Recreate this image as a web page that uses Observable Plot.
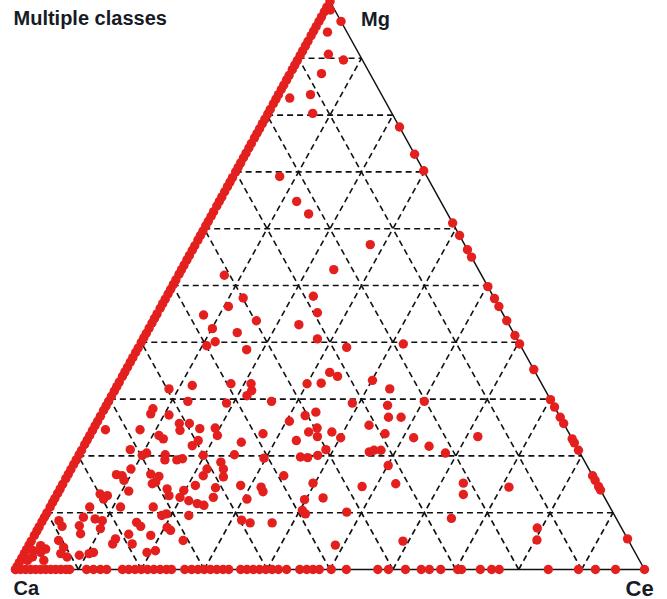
<!DOCTYPE html>
<html>
<head>
<meta charset="utf-8">
<script src="https://cdn.jsdelivr.net/npm/d3@7"></script>
<script src="https://cdn.jsdelivr.net/npm/@observablehq/plot@0.6"></script>
<style>
  html, body { margin: 0; padding: 0; background: #fff; }
  svg { display: block; }
</style>
</head>
<body>
<div id="chart"></div>
<script>
// Ternary composition plot of Ca / Mg / Ce (all values in percent).
const title = "Multiple classes";
const vertices = [
  { name: "Ca", ca: 100, mg: 0, ce: 0 },
  { name: "Ce", ca: 0, mg: 0, ce: 100 },
  { name: "Mg", ca: 0, mg: 100, ce: 0 }
];
const gridLevels = [10, 20, 30, 40, 50, 60, 70, 80, 90];

// Samples inside the triangle: [Mg %, Ce %]; Ca is the remainder.
const interior = [
  [98.5, 0.8], [94.6, 2.3], [90.7, 4.4], [89.7, 7.3], [87.3, 5.0], [83.6, 5.1], [83.0, 2.1],
  [80.3, 7.1], [69.2, 7.4], [64.8, 12.3], [62.6, 15.3], [57.2, 27.8], [51.8, 7.3], [52.8, 24.2],
  [47.8, 12.3], [48.1, 23.3], [46.3, 10.7], [44.8, 7.5], [45.2, 25.4], [43.8, 16.4], [43.1, 23.5],
  [42.4, 10.1], [41.7, 14.4], [40.1, 11.7], [39.4, 10.7], [38.7, 17.4], [40.6, 27.7], [39.1, 33.1],
  [39.7, 41.8], [34.7, 32.6], [34.0, 34.2], [33.3, 40.1], [32.8, 32.2], [32.7, 30.0], [32.7, 17.9],
  [32.7, 21.1], [32.4, 11.9], [31.5, 21.8], [30.6, 21.5], [31.8, 43.6], [31.8, 8.5], [29.6, 12.6],
  [29.3, 18.9], [29.6, 25.9], [29.3, 38.9], [28.9, 44.7], [29.6, 50.2], [28.3, 7.7], [27.4, 7.8],
  [27.2, 10.8], [27.7, 33.9], [27.1, 32.5], [26.1, 30.5], [26.8, 45.9], [26.8, 47.9], [25.4, 43.5],
  [24.9, 35.5], [24.2, 34.5], [23.4, 36.3], [24.2, 38.2], [23.2, 40.1], [23.9, 46.8], [23.9, 27.4],
  [22.4, 24.7], [22.7, 33.3], [24.9, 19.3], [23.6, 20.3], [21.1, 38.8], [20.1, 38.0], [19.8, 35.4],
  [19.7, 36.6], [20.7, 45.9], [21.0, 46.5], [21.0, 47.6], [20.2, 24.7], [19.6, 29.7], [18.9, 23.2],
  [17.7, 24.2], [16.3, 24.9], [18.3, 50.1], [15.1, 52.9], [16.5, 34.4], [15.2, 39.7], [14.6, 47.8],
  [14.8, 28.4], [14.5, 31.8], [13.7, 32.5], [14.4, 24.6], [12.7, 25.1], [12.4, 30.6], [12.6, 42.6],
  [12.3, 39.8], [10.4, 40.4], [9.8, 41.2], [10.1, 47.6], [8.7, 31.6], [8.2, 33.2], [8.2, 36.7],
  [4.3, 48.7], [5.0, 59.1], [23.2, 51.7], [23.4, 61.8], [21.7, 54.9], [20.5, 58.1], [15.2, 63.6],
  [13.2, 64.6], [14.5, 71.2], [9.0, 64.8], [7.3, 79.3], [5.2, 80.3], [25.7, 13.2], [24.5, 13.9],
  [25.7, 14.8], [24.8, 16.9], [24.6, 2.0], [24.6, 7.5], [23.6, 11.0], [23.0, 12.0], [21.8, 17.2],
  [22.7, 17.7], [21.1, 7.7], [20.5, 10.6], [20.1, 10.1], [20.2, 13.7], [19.3, 14.1], [19.3, 16.0],
  [19.5, 16.8], [20.1, 19.8], [17.7, 9.5], [16.7, 7.7], [16.5, 8.7], [15.7, 9.4], [16.8, 13.1],
  [16.4, 14.6], [15.4, 14.6], [15.1, 14.2], [13.8, 11.1], [14.2, 17.0], [13.0, 17.9], [13.9, 19.8],
  [12.7, 19.8], [12.1, 21.5], [14.8, 21.2], [11.6, 23.1], [11.3, 24.3], [16.5, 21.6], [17.7, 21.6],
  [13.0, 8.1], [12.4, 7.8], [11.0, 11.2], [11.0, 6.3], [11.0, 16.4], [9.8, 19.1], [9.5, 22.8],
  [9.2, 6.2], [8.9, 8.2], [8.6, 9.5], [8.6, 2.6], [7.6, 3.6], [7.7, 6.3], [7.2, 9.9], [6.3, 7.2],
  [8.3, 15.1], [7.6, 16.1], [7.4, 20.4], [6.9, 21.2], [6.2, 14.9], [6.0, 18.5], [5.1, 24.1],
  [4.5, 13.2], [4.5, 16.3], [5.1, 4.3], [3.9, 5.7], [2.8, 5.8], [3.6, 3.0], [3.0, 10.9], [2.8, 10.3],
  [2.5, 8.9], [3.0, 19.4], [3.3, 20.6], [2.2, 7.1], [4.2, 1.9], [3.3, 1.2], [3.0, 2.5], [2.2, 1.6],
  [1.6, 3.7], [1.6, 1.1], [13.3, 6.8], [9.5, 18.5], [5.4, 13.2]
];

// Samples with no Ce (Ca–Mg side): Mg %.
const edgeCaMg = [
  0, 0.5, 1.2, 2, 2.8, 3.5, 4.3, 5, 6, 6.8, 7.5, 8.4, 9.2, 10, 11, 11.8, 12.5, 13.4, 14.2, 15,
  16, 16.8, 17.6, 18.5, 19.3, 20.2, 21, 22, 22.8, 23.6, 24.5, 25.3, 26.1, 27, 28, 28.8, 29.6, 30.5,
  31.4, 32.2, 33, 34, 34.8, 35.6, 36.5, 37.3, 38.2, 39, 40, 40.8, 41.6, 42.5, 43.4, 44.2, 45, 46,
  46.8, 47.6, 48.5, 49.3, 50.2, 51, 52, 52.8, 53.6, 54.5, 55.3, 56.2, 57, 58, 58.8, 59.6, 60.5,
  61.3, 62.2, 63, 64, 64.8, 65.6, 66.5, 67.4, 68.2, 69, 70, 70.8, 71.6, 72.5, 73.3, 74.2, 75, 76,
  76.8, 77.6, 78.5, 79.3, 80.2, 81, 82, 82.8, 83.6, 84.5, 85.3, 86.2, 87, 88, 88.8, 89.6, 90.5,
  91.3, 92.2, 93, 94, 94.8, 95.6, 96.5, 97.3, 98.2, 99, 100
];

// Samples with no Mg (Ca–Ce side): Ce %.
const edgeCaCe = [
  0, 0.8, 1.6, 2.4, 3.2, 4.0, 4.8, 5.6, 6.4, 7.2, 8.0, 8.6, 11.3, 12.4, 13.5, 14.5, 17, 18, 19,
  20, 21, 22, 23, 24, 24.8, 26.9, 28, 29, 30, 31, 32, 33, 33.9, 35.8, 36.8, 37.8, 38.8, 39.8,
  40.8, 41.8, 43.1, 45.2, 46.3, 47.3, 48.3, 50.2, 52.6, 57.6, 59.3, 62, 64.5, 65.8, 67.6, 70.3,
  70.9, 73.9, 75.7, 76.9, 84.7, 89.5, 92.2, 95.4, 100
];

// Samples with no Ca (Mg–Ce side): Mg %.
const edgeMgCe = [
  96.5, 77.9, 73.1, 70.2, 61.0, 58.8, 56.3, 55.0, 49.8, 47.7, 46.3, 43.8, 41.2, 39.7, 35.2,
  29.9, 28.6, 26.8, 25.7, 23.0, 22.3, 21.0, 16.5, 15.7, 14.6, 14.0, 5.4
];

// Ternary -> planar coordinates (Ca bottom-left, Ce bottom-right, Mg top).
const tx = d => (d.ce + d.mg / 2) / (d.ca + d.mg + d.ce);
const ty = d => d.mg / (d.ca + d.mg + d.ce);

const samples = [
  ...edgeCaMg.map(mg => ({ ca: 100 - mg, mg, ce: 0 })),
  ...edgeCaCe.map(ce => ({ ca: 100 - ce, mg: 0, ce })),
  ...edgeMgCe.map(mg => ({ ca: 0, mg, ce: 100 - mg })),
  ...interior.map(([mg, ce]) => ({ ca: 100 - mg - ce, mg, ce }))
];

// Grid segments: constant Mg, constant Ce and constant Ca at every level.
const gridSegments = gridLevels.flatMap(t => [
  [{ ca: 100 - t, mg: t, ce: 0 }, { ca: 0, mg: t, ce: 100 - t }],
  [{ ca: 100 - t, mg: 0, ce: t }, { ca: 0, mg: 100 - t, ce: t }],
  [{ ca: t, mg: 0, ce: 100 - t }, { ca: t, mg: 100 - t, ce: 0 }]
]);

const byName = n => vertices.filter(v => v.name === n);
const labelFont = { fontFamily: "Liberation Sans, Arial, Helvetica, sans-serif", fontWeight: "bold", fill: "#161b26" };

const chart = Plot.plot({
  width: 667,
  height: 599,
  marginLeft: 15,
  marginRight: 23,
  marginTop: 1,
  marginBottom: 30,
  x: { domain: [0, 1], axis: null },
  y: { domain: [0, 1], axis: null },
  style: { background: "#fff", overflow: "visible" },
  marks: [
    Plot.link(gridSegments, {
      x1: s => tx(s[0]), y1: s => ty(s[0]),
      x2: s => tx(s[1]), y2: s => ty(s[1]),
      stroke: "#111", strokeWidth: 1.6, strokeDasharray: "6,4"
    }),
    Plot.line([...vertices, vertices[0]], { x: tx, y: ty, stroke: "#111", strokeWidth: 1.5 }),
    Plot.dot(samples, { x: tx, y: ty, r: 4.7, fill: "#e3201e", stroke: "none" }),
    Plot.text(byName("Mg"), { x: tx, y: ty, text: "name", textAnchor: "start", dx: 31, dy: 18, fontSize: 20, ...labelFont }),
    Plot.text(byName("Ca"), { x: tx, y: ty, text: "name", textAnchor: "start", dx: -2, dy: 19, fontSize: 20, ...labelFont }),
    Plot.text(byName("Ce"), { x: tx, y: ty, text: "name", textAnchor: "start", dx: -19, dy: 19, fontSize: 22, ...labelFont }),
    Plot.text([title], { frameAnchor: "top-left", lineAnchor: "top", dx: -2, dy: 9, fontSize: 20, ...labelFont })
  ]
});

document.getElementById("chart").appendChild(chart);
</script>
</body>
</html>
